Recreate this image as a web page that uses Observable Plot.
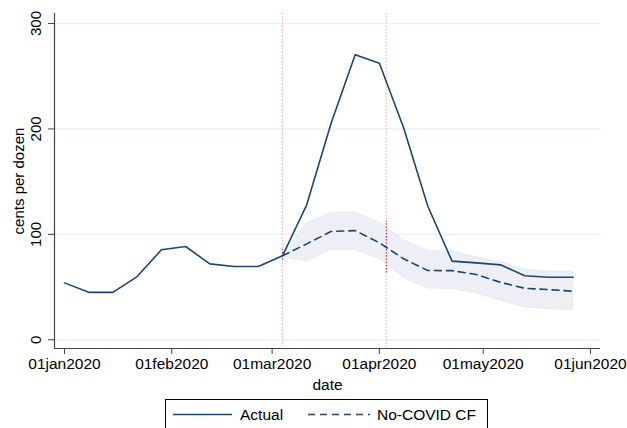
<!DOCTYPE html>
<html>
<head>
<meta charset="utf-8">
<script src="https://cdn.jsdelivr.net/npm/d3@7"></script>
<script src="https://cdn.jsdelivr.net/npm/@observablehq/plot@0.6"></script>
<style>
  html, body { margin: 0; padding: 0; background: #fff; }
  #wrap { width: 627px; height: 428px; overflow: hidden; font-family: "Liberation Sans", Arial, sans-serif; }
  #wrap svg { display: block; }
</style>
</head>
<body>
<div id="wrap"></div>
<script>
// ---- data (weekly observations) ----
const dates = ["2020-01-01","2020-01-08","2020-01-15","2020-01-22","2020-01-29","2020-02-05","2020-02-12","2020-02-19","2020-02-26","2020-03-04","2020-03-11","2020-03-18","2020-03-25","2020-04-01","2020-04-08","2020-04-15","2020-04-22","2020-04-29","2020-05-06","2020-05-13","2020-05-20","2020-05-27"];
const actual = [54, 45, 45, 60, 85.4, 88.5, 72, 69.5, 69.5, 79.7, 128, 204.9, 270.3, 262.4, 201.1, 126.7, 74.6, 73, 71.1, 60.7, 59.4, 59.4];
const cfDates = ["2020-03-04","2020-03-11","2020-03-18","2020-03-25","2020-04-01","2020-04-08","2020-04-15","2020-04-22","2020-04-29","2020-05-06","2020-05-13","2020-05-20","2020-05-27"];
const cf     = [79.7, 91, 102.7, 103.6, 92, 76.8, 65.7, 65.6, 61.9, 54.5, 48.9, 47.6, 46.0];
const cfHigh = [81, 110.2, 120.5, 120.8, 111.4, 94.7, 84.3, 83.7, 78.3, 73.5, 66.6, 64.7, 64.5];
const cfLow  = [78.5, 74.2, 85.2, 85.5, 76.7, 58.7, 48.6, 48.3, 44.1, 37.2, 30.9, 28.7, 28.4];
const eventDates = ["2020-03-04", "2020-04-03"];
const eventLow  = [75.9, 63.5];
const eventHigh = [87.8, 112.5];
const xTickDates = ["2020-01-01","2020-02-01","2020-03-01","2020-04-01","2020-05-01","2020-06-01"];
const yTicks = [0, 100, 200, 300];
const seriesNames = ["Actual", "No-COVID CF"];

// ---- tables ----
const D = s => new Date(s + "T00:00:00Z");
const actualData = dates.map((d, i) => ({date: D(d), value: actual[i]}));
const cfData = cfDates.map((d, i) => ({date: D(d), value: cf[i], lo: cfLow[i], hi: cfHigh[i]}));
const events = eventDates.map((d, i) => ({date: D(d), lo: eventLow[i], hi: eventHigh[i]}));
const xTicks = xTickDates.map(D);

const day = 864e5;
const xDomain = [new Date(+D("2020-01-01") - 2.89 * day), new Date(+D("2020-01-01") + 154.9 * day)];
const yDomain = [-8.25, 309.5];
const navy = "#1a476f";
const fmt = d3.utcFormat("%d%b%Y");

const W = 627, H = 395;
const chart = Plot.plot({
  width: W, height: H,
  marginLeft: 54, marginRight: 27, marginTop: 13, marginBottom: H - 348,
  x: {type: "utc", domain: xDomain},
  y: {domain: yDomain},
  style: {fontFamily: "'Liberation Sans', Arial, sans-serif", fontSize: "15px", color: "#000", background: "#fff", overflow: "visible"},
  marks: [
    Plot.gridY(yTicks, {stroke: "#eaf2f3", strokeOpacity: 1, strokeWidth: 1.6}),
    Plot.areaY(cfData, {x: "date", y1: "lo", y2: "hi", fill: "#eeeef5", stroke: "#e6e6ef", strokeWidth: 0.8, curve: "linear"}),
    Plot.ruleX(events, {x: "date", stroke: "#ee9cb0", strokeWidth: 1.2, strokeDasharray: "1,2.2"}),
    Plot.ruleX(events, {x: "date", y1: "lo", y2: "hi", stroke: "#c0103a", strokeWidth: 1.3, strokeDasharray: "1,2.2"}),
    Plot.lineY(actualData, {x: "date", y: "value", stroke: navy, strokeWidth: 1.6}),
    Plot.lineY(cfData, {x: "date", y: "value", stroke: navy, strokeWidth: 1.6, strokeDasharray: "7,5"}),
    Plot.ruleX([xDomain[0]], {stroke: "#444", strokeWidth: 1.2}),
    Plot.ruleY([yDomain[0]], {stroke: "#444", strokeWidth: 1.2}),
    Plot.axisY(yTicks, {tickRotate: -90, tickSize: 6, tickPadding: 8, stroke: "#444", fontSize: 15,
      label: "cents per dozen", labelAnchor: "center", labelOffset: 41, labelArrow: "none"}),
    Plot.axisX(xTicks, {tickSize: 6, tickPadding: 3, stroke: "#444", fontSize: 15.5,
      tickFormat: d => fmt(d).toLowerCase(),
      label: "date", labelAnchor: "center", labelOffset: 41, labelArrow: "none"})
  ]
});
document.getElementById("wrap").appendChild(chart);

// ---- legend below the svg ----
const leg = d3.select("#wrap").append("svg")
  .attr("width", W).attr("height", 428 - H);
const bx = 165, by = 4, bw = 322, bh = 36;
leg.append("rect").attr("x", bx + 0.5).attr("y", by + 0.5).attr("width", bw).attr("height", bh)
  .attr("fill", "#fff").attr("stroke", "#000").attr("stroke-width", 1);
const items = [
  {name: seriesNames[0], x0: 173, x1: 232, tx: 240, dash: null},
  {name: seriesNames[1], x0: 308, x1: 370, tx: 377, dash: "7,5"}
];
items.forEach(it => {
  leg.append("line").attr("x1", it.x0).attr("x2", it.x1).attr("y1", by + 15.5).attr("y2", by + 15.5)
    .attr("stroke", navy).attr("stroke-width", 1.6).attr("stroke-dasharray", it.dash);
  leg.append("text").attr("x", it.tx).attr("y", by + 21).text(it.name)
    .attr("font-family", "'Liberation Sans', Arial, sans-serif").attr("font-size", "15.5px").attr("fill", "#000");
});
</script>
</body>
</html>
